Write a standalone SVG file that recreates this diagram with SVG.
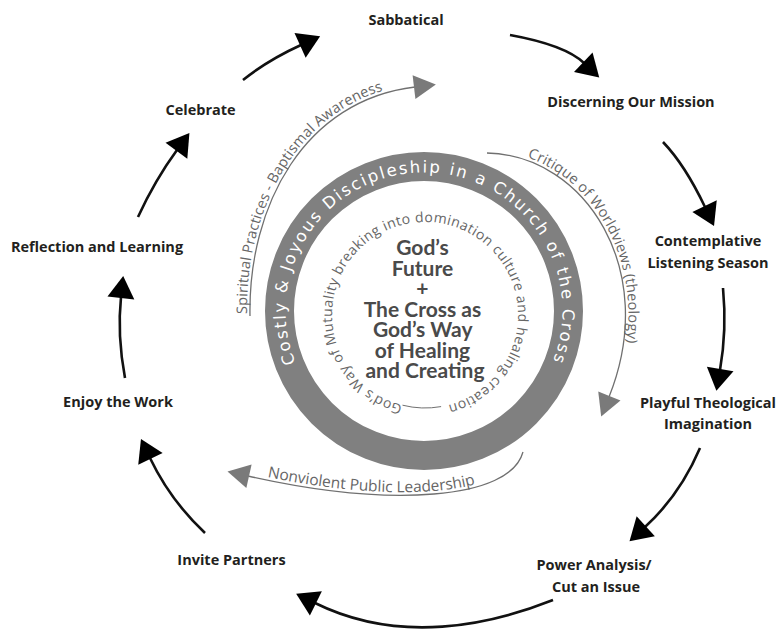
<svg xmlns="http://www.w3.org/2000/svg" width="779" height="631" viewBox="0 0 779 631">
  <style>
    .step { font-family: "Open Sans", "Noto Sans", sans-serif; font-weight: 700; font-size: 14.5px; fill: #231f20; text-anchor: middle; }
    .flow { fill: none; stroke: #111; stroke-width: 2.6; }
    .side { fill: none; stroke: #707070; stroke-width: 1.3; }
    .sidetext { font-family: "Open Sans", "Noto Sans", sans-serif; font-size: 14.5px; fill: #666; }
    .ringtext { font-family: "DejaVu Sans", sans-serif; font-size: 16.5px; fill: #ffffff; letter-spacing: 2px; }
    .innertext { font-family: "Open Sans", "Noto Sans", sans-serif; font-size: 14px; fill: #666; }
    .core { font-family: Lato, "Open Sans", sans-serif; font-weight: 700; font-size: 21px; fill: #4a4a4a; text-anchor: middle; }
  </style>
  <defs>
    <marker id="head" markerUnits="userSpaceOnUse" orient="auto" refX="1" refY="0" markerWidth="30" markerHeight="30" viewBox="0 -15 30 30" overflow="visible">
      <path d="M0,-13.5 L22,0 L0,13.5 Z" fill="#000"/>
    </marker>
    <marker id="headGray" markerUnits="userSpaceOnUse" orient="auto" refX="1" refY="0" markerWidth="30" markerHeight="30" viewBox="0 -15 30 30" overflow="visible">
      <path d="M0,-12 L22,0 L0,12 Z" fill="#7a7a7a"/>
    </marker>
    <path id="ringPath" d="M304.1,380.25 A138.5,138.5 0 1 1 543.9,380.25"/>
    <path id="innerPath" d="M402.5,405.2 A93,93 0 1 1 441.1,406.6"/>
    <path id="spiritualPath" d="M250,316 C248,205 305,100 415,87"/>
    <path id="critiquePath" d="M487,153 C585,155 660,270 609,397"/>
    <path id="nonviolentPath" d="M248,476 C390,508 510,500 523,452"/>
  </defs>

  <!-- central ring and core message -->
  <g id="core">
    <circle cx="424" cy="311" r="144.5" fill="none" stroke="#808080" stroke-width="29"/>
    <text class="ringtext" text-anchor="middle"><textPath href="#ringPath" startOffset="50%" textLength="541" lengthAdjust="spacing">Costly &amp; Joyous Discipleship in a Church of the Cross</textPath></text>
    <text class="innertext"><textPath href="#innerPath" startOffset="0" textLength="538" lengthAdjust="spacing">God’s Way of Mutuality breaking into domination culture and healing creation</textPath></text>
    <path d="M441.1,406.6 A93,93 0 0 1 402.5,405.2" fill="none" stroke="#707070" stroke-width="1"/>
    <text class="core">
      <tspan x="425" y="255">God’s</tspan>
      <tspan x="425" y="275.5">Future</tspan>
      <tspan x="425" y="296">+</tspan>
      <tspan x="425" y="316.5">The Cross as</tspan>
      <tspan x="425" y="337">God’s Way</tspan>
      <tspan x="425" y="357.5">of Healing</tspan>
      <tspan x="425" y="378">and Creating</tspan>
    </text>
  </g>

  <!-- cycle steps -->
  <g id="sabbatical"><text class="step" x="406" y="25">Sabbatical</text></g>
  <g id="discerning"><text class="step" x="631" y="107">Discerning Our Mission</text></g>
  <g id="contemplative"><text class="step" x="708" y="246">Contemplative</text><text class="step" x="708" y="268">Listening Season</text></g>
  <g id="playful"><text class="step" x="708" y="408">Playful Theological</text><text class="step" x="708" y="429">Imagination</text></g>
  <g id="power"><text class="step" x="594" y="570">Power Analysis/</text><text class="step" x="596" y="592">Cut an Issue</text></g>
  <g id="invite"><text class="step" x="231.5" y="565">Invite Partners</text></g>
  <g id="enjoy"><text class="step" x="118" y="407">Enjoy the Work</text></g>
  <g id="reflection"><text class="step" x="97" y="252">Reflection and Learning</text></g>
  <g id="celebrate"><text class="step" x="200.5" y="115">Celebrate</text></g>

  <!-- connectors -->
  <g id="connectors">
    <path class="flow" d="M243,80 Q268,60 301,45" marker-end="url(#head)"/>
    <path class="flow" d="M510,35 Q565,45 584,63" marker-end="url(#head)"/>
    <path class="flow" d="M663,142 Q685,165 705,207" marker-end="url(#head)"/>
    <path class="flow" d="M723,288 Q727,330 720,370" marker-end="url(#head)"/>
    <path class="flow" d="M700,448 Q680,495 645,527" marker-end="url(#head)"/>
    <path class="flow" d="M553,600 C490,625 400,645 315,603" marker-end="url(#head)"/>
    <path class="flow" d="M205,533 Q170,500 150,458" marker-end="url(#head)"/>
    <path class="flow" d="M125,378 Q117,335 121,297" marker-end="url(#head)"/>
    <path class="flow" d="M138,217 Q155,180 177,150" marker-end="url(#head)"/>

    <use href="#spiritualPath" class="side" marker-end="url(#headGray)"/>
    <use href="#critiquePath" class="side" marker-end="url(#headGray)"/>
    <path class="side" d="M523,452 C510,500 390,508 248,476" marker-end="url(#headGray)"/>

    <text class="sidetext" dy="-3"><textPath href="#spiritualPath" startOffset="2">Spiritual Practices - Baptismal Awareness</textPath></text>
    <text class="sidetext" dy="-3"><textPath href="#critiquePath" startOffset="40">Critique of Worldviews (theology)</textPath></text>
    <text class="sidetext" dy="-3" style="font-size:15.5px"><textPath href="#nonviolentPath" startOffset="19">Nonviolent Public Leadership</textPath></text>
  </g>
</svg>
